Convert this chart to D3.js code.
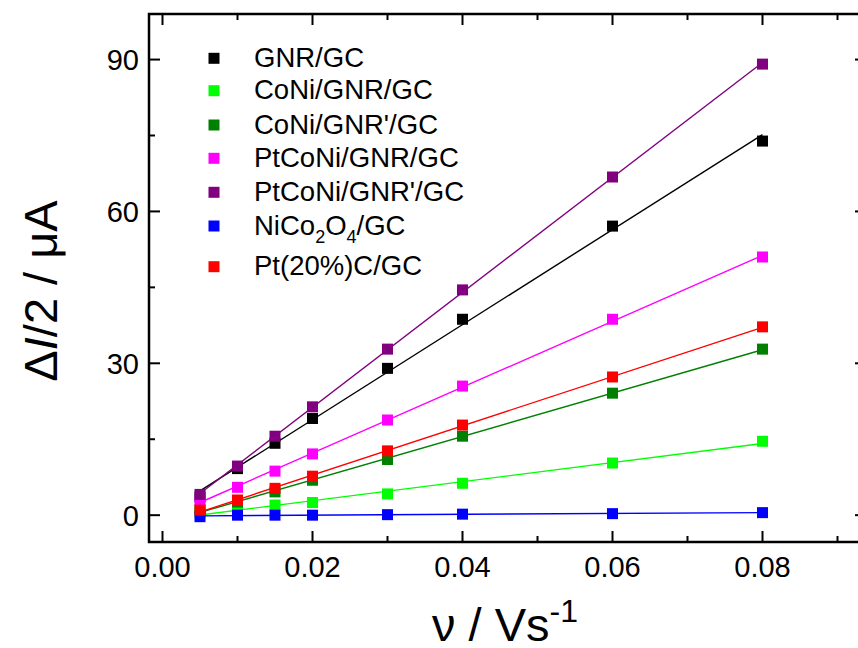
<!DOCTYPE html>
<html>
<head>
<meta charset="utf-8">
<script src="https://cdn.jsdelivr.net/npm/d3@7/dist/d3.min.js"></script>
<style>
  html, body { margin: 0; padding: 0; background: #fff; }
  svg { display: block; font-family: "Liberation Sans", Arial, Helvetica, sans-serif; }
</style>
</head>
<body>
<svg id="chart" width="858" height="648"></svg>
<script>
// Scan rates (V/s)
const scanRates = [0.005, 0.01, 0.015, 0.02, 0.03, 0.04, 0.06, 0.08];

// Half of the anodic/cathodic current difference (µA) for each electrode
const gnrGC        = [3.6, 9.2, 14.2, 19.1, 29.0, 38.7, 57.1, 73.9];
const coniGnrGC    = [0.5, 1.3, 2.0, 2.5, 4.2, 6.3, 10.3, 14.6];
const coniGnrPGC   = [1.0, 2.6, 4.6, 6.9, 11.0, 15.6, 24.1, 32.8];
const ptconiGnrGC  = [2.9, 5.5, 8.7, 12.1, 18.8, 25.5, 38.7, 51.0];
const ptconiGnrPGC = [4.1, 9.7, 15.6, 21.4, 32.8, 44.5, 66.8, 89.1];
const nico2o4GC    = [-0.3, 0.0, 0.0, 0.0, 0.1, 0.2, 0.3, 0.5];
const pt20cGC      = [1.0, 3.0, 5.3, 7.7, 12.7, 17.8, 27.3, 37.2];

const seriesNames  = ["GNR/GC", "CoNi/GNR/GC", "CoNi/GNR'/GC", "PtCoNi/GNR/GC",
                      "PtCoNi/GNR'/GC", "NiCo2O4/GC", "Pt(20%)C/GC"];
const seriesColors = ["#000000", "#00ff00", "#008000", "#ff00ff", "#800080", "#0000ff", "#ff0000"];
const seriesValues = [gnrGC, coniGnrGC, coniGnrPGC, ptconiGnrGC, ptconiGnrPGC, nico2o4GC, pt20cGC];

const xTicks = [0.00, 0.02, 0.04, 0.06, 0.08];
const xMinorTicks = [0.01, 0.03, 0.05, 0.07, 0.09];
const yTicks = [0, 30, 60, 90];
const yMinorTicks = [15, 45, 75];

const svg = d3.select("#chart");
const plotLeft = 149, plotRight = 866, plotTop = 14, plotBottom = 542;

const x = d3.scaleLinear().domain([-0.0018, 0.0938]).range([plotLeft, plotRight]);
const y = d3.scaleLinear().domain([-5.3, 99]).range([plotBottom, plotTop]);

const FONT = "\"Liberation Sans\", Arial, Helvetica, sans-serif";

// Least-squares straight line through each series
function linearFit(xs, ys) {
  const n = xs.length;
  const mx = d3.mean(xs), my = d3.mean(ys);
  let sxy = 0, sxx = 0;
  for (let i = 0; i < n; i++) {
    sxy += (xs[i] - mx) * (ys[i] - my);
    sxx += (xs[i] - mx) * (xs[i] - mx);
  }
  const b = sxy / sxx;
  return { slope: b, intercept: my - b * mx };
}

const plot = svg.append("g");
const xMin = d3.min(scanRates), xMax = d3.max(scanRates);

seriesValues.forEach((vals, i) => {
  const g = plot.append("g");
  const fit = linearFit(scanRates, vals);
  const line = d3.line().x(d => x(d)).y(d => y(fit.intercept + fit.slope * d));
  g.selectAll("rect")
    .data(scanRates.map((s, j) => [s, vals[j]]))
    .join("rect")
    .attr("x", d => x(d[0]) - 5.5)
    .attr("y", d => y(d[1]) - 5.5)
    .attr("width", 11)
    .attr("height", 11)
    .attr("fill", seriesColors[i]);
  g.append("path")
    .attr("d", line([xMin, xMax]))
    .attr("fill", "none")
    .attr("stroke", seriesColors[i])
    .attr("stroke-width", 1.4);
});

// Frame and inward ticks on all four sides
const axes = svg.append("g").attr("stroke", "#000").attr("stroke-width", 2.5).attr("fill", "none");
axes.append("rect")
  .attr("x", plotLeft).attr("y", plotTop)
  .attr("width", plotRight - plotLeft).attr("height", plotBottom - plotTop);

const tickG = svg.append("g").attr("stroke", "#000").attr("stroke-width", 2);
const major = 11, minor = 6;
xTicks.forEach(t => {
  tickG.append("line").attr("x1", x(t)).attr("x2", x(t)).attr("y1", plotBottom).attr("y2", plotBottom - major);
  tickG.append("line").attr("x1", x(t)).attr("x2", x(t)).attr("y1", plotTop).attr("y2", plotTop + major);
});
xMinorTicks.forEach(t => {
  tickG.append("line").attr("x1", x(t)).attr("x2", x(t)).attr("y1", plotBottom).attr("y2", plotBottom - minor);
  tickG.append("line").attr("x1", x(t)).attr("x2", x(t)).attr("y1", plotTop).attr("y2", plotTop + minor);
});
yTicks.forEach(t => {
  tickG.append("line").attr("y1", y(t)).attr("y2", y(t)).attr("x1", plotLeft).attr("x2", plotLeft + major);
  tickG.append("line").attr("y1", y(t)).attr("y2", y(t)).attr("x1", plotRight).attr("x2", plotRight - major);
});
yMinorTicks.forEach(t => {
  tickG.append("line").attr("y1", y(t)).attr("y2", y(t)).attr("x1", plotLeft).attr("x2", plotLeft + minor);
  tickG.append("line").attr("y1", y(t)).attr("y2", y(t)).attr("x1", plotRight).attr("x2", plotRight - minor);
});

// Tick labels
const fmtX = d3.format(".2f");
svg.append("g").selectAll("text").data(xTicks).join("text")
  .attr("x", d => x(d)).attr("y", 577)
  .attr("text-anchor", "middle")
  .attr("font-size", 29).attr("font-family", FONT)
  .text(d => fmtX(d));

svg.append("g").selectAll("text").data(yTicks).join("text")
  .attr("x", 139).attr("y", d => y(d) + 10.5)
  .attr("text-anchor", "end")
  .attr("font-size", 29).attr("font-family", FONT)
  .text(d => d);

// Axis titles
const xTitle = svg.append("text")
  .attr("x", 505).attr("y", 641)
  .attr("text-anchor", "middle")
  .attr("font-size", 47).attr("font-family", FONT);
xTitle.append("tspan").text("ν / Vs");
xTitle.append("tspan").attr("dy", -19).attr("font-size", 32).text("-1");

const yTitle = svg.append("text")
  .attr("transform", "translate(57,291) rotate(-90)")
  .attr("text-anchor", "middle")
  .attr("font-size", 47).attr("font-family", FONT);
yTitle.append("tspan").text("Δ");
yTitle.append("tspan").attr("font-style", "italic").text("I");
yTitle.append("tspan").text("/2 / μA");

// Legend
const legendRows = [58.3, 90.7, 125, 158.3, 192.3, 226, 266.7];
const legend = svg.append("g");
seriesNames.forEach((name, i) => {
  const cy = legendRows[i];
  legend.append("rect")
    .attr("x", 214 - 5.5).attr("y", cy - 5.5)
    .attr("width", 11).attr("height", 11)
    .attr("fill", seriesColors[i]);
  const t = legend.append("text")
    .attr("x", 254).attr("y", cy + 8.5)
    .attr("font-size", 27.5).attr("font-family", FONT);
  if (name === "NiCo2O4/GC") {
    t.append("tspan").text("NiCo");
    t.append("tspan").attr("dy", 8).attr("font-size", 18).text("2");
    t.append("tspan").attr("dy", -8).text("O");
    t.append("tspan").attr("dy", 8).attr("font-size", 18).text("4");
    t.append("tspan").attr("dy", -8).text("/GC");
  } else {
    t.text(name);
  }
});
</script>
</body>
</html>
